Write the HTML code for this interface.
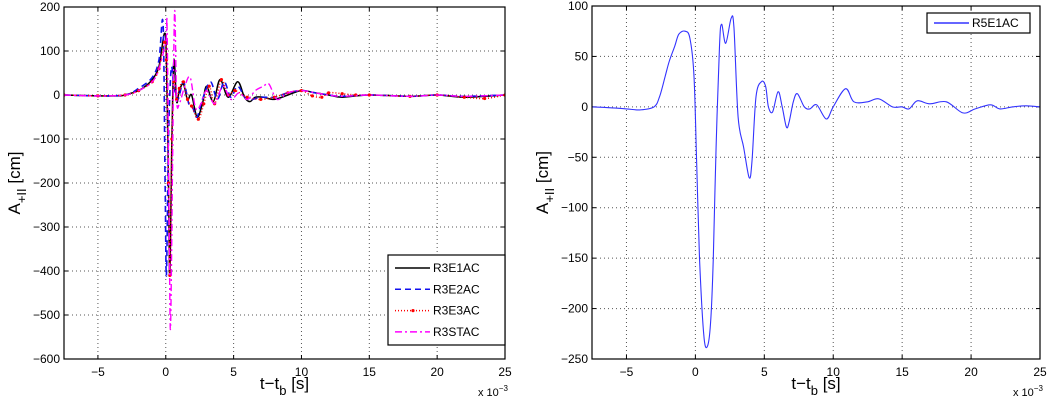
<!DOCTYPE html>
<html><head><meta charset="utf-8"><style>
html,body{margin:0;padding:0;background:#fff}
svg{display:block;font-family:"Liberation Sans",sans-serif}
</style></head><body>
<svg id="c" width="1047" height="400"></svg>
<script>
// ---- data (time in ms, amplitude in cm) ----
const xTicks=[-5,0,5,10,15,20,25];
const leftYTicks=[200,100,0,-100,-200,-300,-400,-500,-600];
const rightYTicks=[100,50,0,-50,-100,-150,-200,-250];
const seriesNames=["R3E1AC","R3E2AC","R3E3AC","R3STAC"];
const e1T=[-7.5,-5,-3.5,-3,-2,-1.5,-1,-0.5,-0.1,0.05,0.2,0.3,0.45,0.6,0.8,1.0,1.3,1.6,1.9,2.3,2.7,3.0,3.5,4.0,4.6,5.3,5.8,6.2,6.6,7.2,8,9,10,11,12,13,15,18,20,22,25];
const e1V=[0,-2,-2,0,10,20,35,65,140,80,-200,-410,-100,80,-15,10,25,-10,0,-50,-20,20,-15,35,-5,30,-5,-15,-5,-5,-10,0,10,5,0,-5,0,-3,0,-5,0];
const e2T=[-7.5,-5,-3,-2,-1,-0.5,-0.2,-0.05,0.05,0.2,0.4,0.6,0.9,1.3,1.7,2.0,2.3,2.7,3.3,3.8,4.3,4.8,5.3,6,7,8,9,10,11,12,13,15,18,20,22,25];
const e2V=[0,-2,0,15,40,80,160,-200,-410,-100,60,20,-10,30,-20,-30,-50,-10,30,-10,30,-5,20,-10,-5,-5,5,10,5,0,-3,0,-3,0,-3,0];
const e3T=[-7.5,-5,-3,-2,-1,-0.5,-0.1,0.05,0.2,0.3,0.45,0.6,0.8,1.0,1.3,1.6,1.9,2.4,2.8,3.2,3.6,4.1,4.6,5.1,6,7,8,9,10,10.8,11.5,12,13,14,15,18,20,22,23.5,25];
const e3V=[0,-2,0,10,30,60,120,80,-200,-410,-100,30,-10,15,30,-10,-25,-55,-20,20,-20,35,0,10,-5,-10,-5,5,10,-2,-5,5,3,0,0,-3,0,-5,-8,0];
const stT=[-7.5,-5,-3,-2,-1,-0.5,0,0.1,0.25,0.35,0.5,0.65,0.8,1.0,1.4,1.8,2.2,2.6,3.0,3.6,4.2,4.8,5.4,6,6.6,7.2,7.6,8.2,9,10,11,12,13,15,18,20,22,25];
const stV=[0,-2,0,10,30,60,120,150,-300,-530,-150,190,-10,-20,20,40,-30,-20,10,-20,20,-10,5,-10,10,20,25,-10,5,10,5,0,-3,0,-3,0,-3,0];
const r5T=[-7.5,-6,-5,-4,-3,-2.6,-2.2,-1.9,-1.5,-1.2,-0.75,-0.4,-0.1,0.1,0.3,0.6,0.85,1.1,1.3,1.5,1.75,1.9,2.2,2.6,2.8,3.1,3.5,3.9,4.1,4.4,4.8,5.1,5.3,5.6,6.0,6.3,6.6,6.8,7.1,7.4,7.9,8.3,8.8,9.5,10.0,10.9,11.5,12.5,13.3,14.3,15,15.5,16.1,17,18.2,19.4,20.3,21.4,22.1,23,24,25];
const r5V=[0,-1,-2,-3,0,10,30,45,60,72,75,68,30,-60,-150,-225,-238,-215,-150,-40,60,82,63,88,78,-10,-40,-70,-55,10,25,20,0,-5,15,0,-20,-15,5,13,0,-2,2,-12,0,18,5,5,8,0,0,-2,6,3,5,-6,-2,2,-2,0,1,0];

const svg=document.getElementById('c');
const NS='http://www.w3.org/2000/svg';
function mk(tag,attrs,parent){const e=document.createElementNS(NS,tag);for(const k in attrs)e.setAttribute(k,attrs[k]);(parent||svg).appendChild(e);return e;}
function smooth(P){
  let d='M'+P[0][0].toFixed(1)+','+P[0][1].toFixed(1);
  for(let i=0;i<P.length-1;i++){
    const p0=P[i-1]||P[i],p1=P[i],p2=P[i+1],p3=P[i+2]||P[i+1];
    const c1=[p1[0]+(p2[0]-p0[0])/6,p1[1]+(p2[1]-p0[1])/6];
    const c2=[p2[0]-(p3[0]-p1[0])/6,p2[1]-(p3[1]-p1[1])/6];
    d+=' C'+c1.map(v=>v.toFixed(1)).join(',')+' '+c2.map(v=>v.toFixed(1)).join(',')+' '+p2[0].toFixed(1)+','+p2[1].toFixed(1);
  }
  return d;
}

function panel(p){
  const sx=t=>p.x0+(t-(-7.5))/(32.5)*(p.x1-p.x0);
  const sy=v=>p.y0+(p.ymax-v)/(p.ymax-p.ymin)*(p.y1-p.y0);
  const g=mk('g',{});
  
  
  xTicks.forEach(t=>{
    const x=sx(t);
    if(t<25){const l=mk('line',{x1:x,x2:x,y1:p.y0,y2:p.y1,stroke:'#555','stroke-width':1,'stroke-dasharray':'1,3'},g);
      }
    mk('line',{x1:x,x2:x,y1:p.y1,y2:p.y1-4,stroke:'#000'},g);
    mk('line',{x1:x,x2:x,y1:p.y0,y2:p.y0+4,stroke:'#000'},g);
    const tx=mk('text',{x:x,y:p.y1+17,'font-size':12,'text-anchor':'middle'},g);
    tx.textContent=t===0?'0':(t<0?'\u2212'+(-t):t);
    
  });
  p.yt.forEach(v=>{
    const y=sy(v);
    if(v!==p.ymax&&v!==p.ymin){const l=mk('line',{x1:p.x0,x2:p.x1,y1:y,y2:y,stroke:'#555','stroke-width':1,'stroke-dasharray':'1,3'},g);
      }
    mk('line',{x1:p.x0,x2:p.x0+4,y1:y,y2:y,stroke:'#000'},g);
    mk('line',{x1:p.x1,x2:p.x1-4,y1:y,y2:y,stroke:'#000'},g);
    const tx=mk('text',{x:p.x0-4,y:y+4,'font-size':12,'text-anchor':'end'},g);
    tx.textContent=v<0?'\u2212'+(-v):v;
    
  });
  const cid='clip'+p.name;
  const cp=mk('clipPath',{id:cid},g);mk('rect',{x:p.x0,y:p.y0,width:p.x1-p.x0,height:p.y1-p.y0},cp);
  const sg=mk('g',{'clip-path':'url(#'+cid+')'},g);
  p.series.forEach(s=>{
    const P=s.t.map((t,i)=>[sx(t),sy(s.v[i])]);
    const pl=mk('path',{d:smooth(P),fill:'none',stroke:s.c,'stroke-width':s.w||1.3,'stroke-dasharray':s.d||'','stroke-linejoin':'round'},sg);
    
    
    if(s.dots){s.t.forEach((t,i)=>{mk('circle',{cx:sx(t),cy:sy(s.v[i]),r:1.6,fill:s.c},sg);});}
  });
  const fr=mk('rect',{x:p.x0,y:p.y0,width:p.x1-p.x0,height:p.y1-p.y0,fill:'none',stroke:'#000','stroke-width':1.2},g);
  
  const xl=mk('text',{x:(p.x0+p.x1)/2,y:389,'font-size':17,'text-anchor':'middle'},g);
  xl.innerHTML='t\u2212t<tspan font-size="13" dy="6">b</tspan><tspan dy="-6"> [s]</tspan>';
  
  const ex=mk('text',{x:p.x1-27,y:396,'font-size':11},g);
  ex.innerHTML='x 10<tspan font-size="8" dy="-5">\u22123</tspan>';
  
  const yl=mk('text',{transform:'translate('+p.ylx+','+(p.y0+p.y1)/2+') rotate(-90)','font-size':17,'text-anchor':'middle'},g);
  yl.innerHTML='A<tspan font-size="13" dy="6">+II</tspan><tspan dy="-6"> [cm]</tspan>';
  
  const L=p.leg;
  const lg=mk('g',{},g);
  
  mk('rect',{x:L.x,y:L.y,width:L.w,height:L.h,fill:'#fff',stroke:'#000','stroke-width':1.2},lg);
  p.series.forEach((s,i)=>{
    const y=L.y+L.first+i*L.step;
    const e=mk('g',{},lg);
    
    mk('line',{x1:L.x+7,x2:L.x+42,y1:y,y2:y,stroke:s.c,'stroke-width':1.5,'stroke-dasharray':s.d||''},e);
    if(s.dots)mk('circle',{cx:L.x+25,cy:y,r:1.6,fill:s.c},e);
    const t=mk('text',{x:L.x+45,y:y+4,'font-size':12},e);t.textContent=s.n;
  });
}

panel({name:'left-panel',x0:64,x1:505,y0:7,y1:359,ymax:200,ymin:-600,yt:leftYTicks,ylx:20,
  leg:{x:388,y:255,w:117,h:90,first:13,step:21.3},
  series:[
    {n:seriesNames[0],t:e1T,v:e1V,c:'#000',w:1.5},
    {n:seriesNames[1],t:e2T,v:e2V,c:'#1010ee',d:'6,4',w:1.6},
    {n:seriesNames[2],t:e3T,v:e3V,c:'#f00',d:'1,2',dots:true,w:1.5},
    {n:seriesNames[3],t:stT,v:stV,c:'#f0f',d:'7,3,2,3',w:1.4}
  ]});
panel({name:'right-panel',x0:592,x1:1040,y0:6,y1:359,ymax:100,ymin:-250,yt:rightYTicks,ylx:548,
  leg:{x:927,y:13,w:103,h:20,first:10,step:20},
  series:[{n:'R5E1AC',t:r5T,v:r5V,c:'#3333ff',w:1.1}]});
</script>
</body></html>
